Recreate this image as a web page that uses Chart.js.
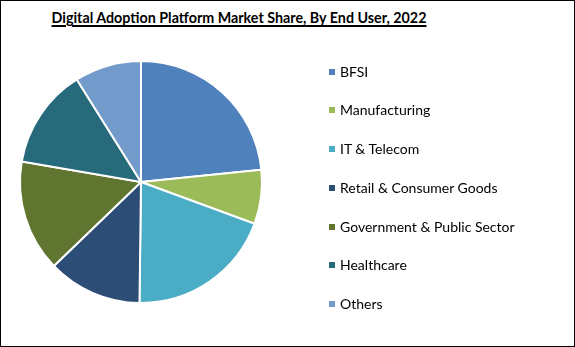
<!DOCTYPE html>
<html><head><meta charset="utf-8">
<script src="https://cdn.jsdelivr.net/npm/chart.js@4.4.0/dist/chart.umd.min.js"></script>
<style>
html,body{margin:0;padding:0;background:#fff;}
#frame{position:relative;width:575px;height:347px;box-sizing:border-box;border:1px solid #000;overflow:hidden;background:#fff;}
#title{position:absolute;left:0;width:476px;top:7px;text-align:center;font-family:Lato,"Liberation Sans",sans-serif;font-weight:bold;font-size:14.3px;line-height:20px;text-decoration:underline;text-underline-offset:2px;text-decoration-thickness:1.5px;color:#000;white-space:nowrap;}
#chartBox{position:absolute;left:0;top:0;width:573px;height:345px;}
#legend{position:absolute;left:328px;top:0;width:240px;height:345px;}
.li{position:absolute;left:0;height:16px;line-height:16px;white-space:nowrap;font-family:Lato,"Liberation Sans",sans-serif;font-size:14px;color:#000;}
.sw{position:absolute;left:0;top:5px;width:6px;height:6px;}
.tx{position:absolute;left:11px;top:0;}
</style></head>
<body>
<div id="frame">
  <div id="title">Digital Adoption Platform Market Share, By End User, 2022</div>
  <div id="chartBox"><canvas id="c"></canvas></div>
  <div id="legend"></div>
</div>
<script>
const categories = ["BFSI", "Manufacturing", "IT & Telecom", "Retail & Consumer Goods", "Government & Public Sector", "Healthcare", "Others"];
const shares = [23.4, 7.2, 19.6, 12.6, 14.9, 13.4, 8.9];
const colors = ["#4F81BD", "#9BBB59", "#4BACC6", "#2C4D75", "#5F7530", "#276A7C", "#729ACA"];

const chart = new Chart(document.getElementById('c'), {
  type: 'pie',
  data: {
    labels: categories,
    datasets: [{
      data: shares,
      backgroundColor: colors,
      borderColor: '#ffffff',
      borderWidth: 2,
      hoverOffset: 0,
      radius: 121
    }]
  },
  options: {
    responsive: true,
    maintainAspectRatio: false,
    animation: false,
    layout: { padding: { left: 20, right: 313, top: 61, bottom: 44 } },
    plugins: {
      legend: { display: false },
      title: { display: false },
      tooltip: { enabled: false }
    }
  }
});

// Legend built from the chart's own legend items
const items = Chart.overrides.pie.plugins.legend.labels.generateLabels(chart);
const legend = document.getElementById('legend');
const firstCenter = 70.7, step = 38.7;
items.forEach((it, i) => {
  const row = document.createElement('div');
  row.className = 'li';
  row.style.top = (firstCenter + i * step - 8) + 'px';
  const sw = document.createElement('span');
  sw.className = 'sw';
  sw.style.background = it.fillStyle;
  const tx = document.createElement('span');
  tx.className = 'tx';
  tx.textContent = it.text;
  row.appendChild(sw); row.appendChild(tx);
  legend.appendChild(row);
});
</script>
</body></html>
